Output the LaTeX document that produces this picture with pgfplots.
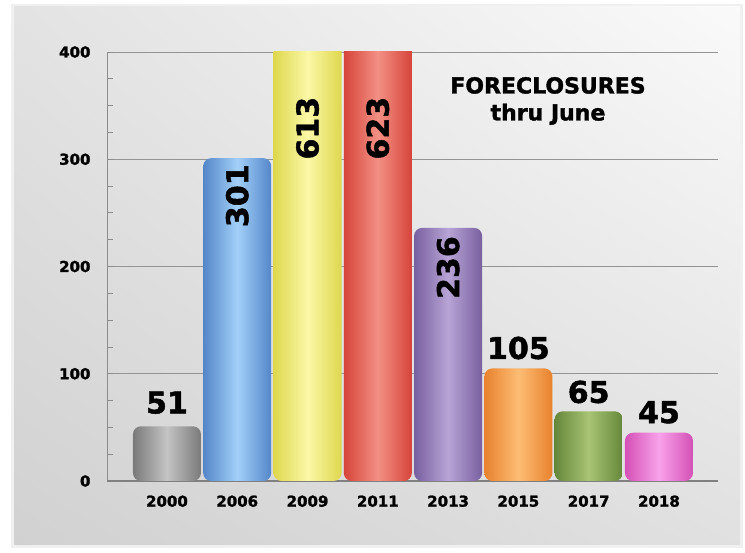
\documentclass[border=0pt]{standalone}
\usepackage{pgfplots}
\pgfplotsset{compat=1.18}
\usepackage{fontspec}
\setmainfont{DejaVu Sans}
\newfontfamily\heavy{DejaVu Sans}[BoldFeatures={FakeBold=1.6}]
\usetikzlibrary{shadings}

% bar colours: edge / middle
\definecolor{grayE}{HTML}{7A7A7A}\definecolor{grayM}{HTML}{C4C4C4}
\definecolor{blueE}{HTML}{5486C9}\definecolor{blueM}{HTML}{A2D0F8}
\definecolor{yelE}{HTML}{DED84E}\definecolor{yelM}{HTML}{FBF7A6}
\definecolor{redE}{HTML}{D6443A}\definecolor{redM}{HTML}{F39084}
\definecolor{purE}{HTML}{7860A0}\definecolor{purM}{HTML}{B8A4D6}
\definecolor{oraE}{HTML}{E8822E}\definecolor{oraM}{HTML}{FDBD74}
\definecolor{griE}{HTML}{66873A}\definecolor{griM}{HTML}{A8C474}
\definecolor{pinE}{HTML}{D450B6}\definecolor{pinM}{HTML}{F8A2EA}

\pgfplotsset{
  cyl/.style n args={2}{ybar, bar width=68pt, bar shift=0pt, draw=none,
    left color=#1, right color=#1, middle color=#2, rounded corners=8pt},
}

\begin{document}
\begin{tikzpicture}[x=1pt,y=1pt]
\fill[white] (0,0) rectangle (745,553);
\fill[black!6] (11,5) rectangle (743,549);
\shade[lower left=black!18, lower right=black!12, upper left=black!11, upper right=black!2]
  (14,8) rectangle (740,546);
\begin{axis}[
  at={(107pt,72pt)}, anchor=south west, scale only axis,
  width=611pt, height=429pt,
  xmin=-0.853, xmax=7.84, ymin=0, ymax=400,
  axis x line*=bottom, axis y line*=left,
  axis line style={-},
  x axis line style={draw=black!50, line width=1.6pt},
  y axis line style={draw=black!45, line width=1pt},
  xtick={0,...,7},
  xticklabels={2000,2006,2009,2011,2013,2015,2017,2018},
  major x tick style={draw=none},
  ytick={0,100,200,300,400}, minor y tick num=3,
  tick align=inside, y tick style={draw=black!45, line width=0.8pt},
  major tick length=6pt, minor tick length=6pt,
  ymajorgrids, grid style={draw=black!42, line width=0.8pt},
  tick label style={font=\heavy\fontsize{15}{18}\selectfont\bfseries},
  xticklabel style={yshift=-11pt},
  yticklabel style={xshift=-13pt},
  /pgf/number format/assume math mode=true,
]
\addplot[cyl={grayE}{grayM}] coordinates {(0,51)};
\addplot[cyl={blueE}{blueM}] coordinates {(1,301)};
\addplot[cyl={yelE}{yelM}] coordinates {(2,613)};
\addplot[cyl={redE}{redM}] coordinates {(3,623)};
\addplot[cyl={purE}{purM}] coordinates {(4,236)};
\addplot[cyl={oraE}{oraM}] coordinates {(5,105)};
\addplot[cyl={griE}{griM}] coordinates {(6,65)};
\addplot[cyl={pinE}{pinM}] coordinates {(7,45)};
% value labels above the short bars
\addplot[draw=none, mark=none, nodes near coords, point meta=explicit symbolic,
  nodes near coords style={anchor=center, inner sep=0pt,
    font=\heavy\fontsize{30}{30}\selectfont\bfseries}]
  coordinates {(0,73)[51] (5,124)[105] (6,83)[65] (7,64)[45]};
% value labels inside the tall bars
\addplot[draw=none, mark=none, nodes near coords, point meta=explicit symbolic,
  nodes near coords style={anchor=center, rotate=90, inner sep=0pt,
    font=\heavy\fontsize{30}{30}\selectfont\bfseries}]
  coordinates {(1,266)[301] (2,329)[613] (3,329)[623] (4,199)[236]};
\end{axis}
\node[font=\heavy\fontsize{22}{27}\selectfont\bfseries, align=center] at (548,452)
  {FORECLOSURES\\thru June};
\end{tikzpicture}
\end{document}
